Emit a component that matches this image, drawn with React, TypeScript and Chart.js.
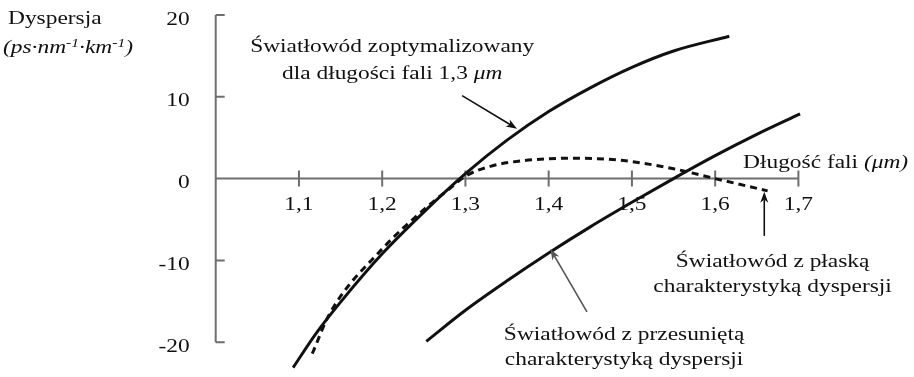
import React, { useEffect, useRef } from "react";
import { Chart, registerables } from "chart.js";

Chart.register(...registerables);

// Dispersion curves (wavelength in µm, dispersion in ps·nm⁻¹·km⁻¹)
const standardX = [1.093, 1.12, 1.15, 1.2, 1.25, 1.3, 1.35, 1.4, 1.45, 1.5, 1.55, 1.617];
const standardY = [-23.1, -19.0, -15.1, -9.2, -4.1, 0.6, 4.7, 8.2, 11.1, 13.6, 15.6, 17.4];

const flatX = [1.116, 1.137, 1.2, 1.25, 1.28, 1.3, 1.33, 1.37, 1.43, 1.49, 1.55, 1.6, 1.663];
const flatY = [-21.4, -16.5, -8.6, -3.8, -1.3, 0.3, 1.5, 2.2, 2.5, 2.2, 1.2, 0.0, -1.5];

const shiftedX = [1.253, 1.3, 1.35, 1.4, 1.45, 1.5, 1.55, 1.6, 1.65, 1.702];
const shiftedY = [-19.9, -16.1, -12.5, -9.1, -5.9, -2.9, 0.0, 2.8, 5.4, 7.9];

// Axis ticks
const xTickValues = [1.1, 1.2, 1.3, 1.4, 1.5, 1.6, 1.7];
const xTickLabels = ["1,1", "1,2", "1,3", "1,4", "1,5", "1,6", "1,7"];
const yTickValues = [20, 10, 0, -10, -20];
const yTickLabels = ["20", "10", "0", "-10", "-20"];

type Part = { t: string; italic?: boolean; sup?: boolean };

// Text blocks anchored in data coordinates
const axisTitleY: Part[] = [{ t: "Dyspersja" }];
const axisUnitsY: Part[] = [
  { t: "(ps·nm", italic: true },
  { t: "-1", italic: true, sup: true },
  { t: "·km", italic: true },
  { t: "-1", italic: true, sup: true },
  { t: ")", italic: true },
];
const axisTitleX: Part[] = [{ t: "Długość fali " }, { t: "(μm)", italic: true }];

const noteStandard: Part[][] = [
  [{ t: "Światłowód zoptymalizowany" }],
  [{ t: "dla długości fali 1,3 " }, { t: "μm", italic: true }],
];
const noteFlat: Part[][] = [[{ t: "Światłowód z płaską" }], [{ t: "charakterystyką dyspersji" }]];
const noteShifted: Part[][] = [[{ t: "Światłowód z przesuniętą" }], [{ t: "charakterystyką dyspersji" }]];

// Arrows: [tailX, tailY, tipX, tipY] in data units
const arrowStandard = [1.296, 10.15, 1.362, 6.1];
const arrowShifted = [1.446, -16.3, 1.402, -8.6];
const arrowFlat = [1.659, -7.0, 1.659, -1.6];

const FONT_FAMILY = '"Liberation Serif", "Times New Roman", serif';
const FONT_SIZE = 18;
const TEXT_STRETCH = 1.3;
const AXIS_COLOR = "#6e6e6e";
const INK = "#111111";

function fontFor(p: Part) {
  const size = p.sup ? Math.round(FONT_SIZE * 0.65) : FONT_SIZE;
  return `${p.italic ? "italic " : ""}${size}px ${FONT_FAMILY}`;
}

function drawRich(ctx: CanvasRenderingContext2D, parts: Part[], x: number, y: number, align: "left" | "center" | "right") {
  ctx.save();
  ctx.translate(x, y);
  ctx.scale(TEXT_STRETCH, 1);
  ctx.textAlign = "left";
  ctx.textBaseline = "alphabetic";
  const widths = parts.map((p) => {
    ctx.font = fontFor(p);
    return ctx.measureText(p.t).width;
  });
  const total = widths.reduce((a, b) => a + b, 0);
  let cx = align === "center" ? -total / 2 : align === "right" ? -total : 0;
  parts.forEach((p, i) => {
    ctx.font = fontFor(p);
    ctx.fillText(p.t, cx, p.sup ? -FONT_SIZE * 0.38 : 0);
    cx += widths[i];
  });
  ctx.restore();
}

function drawArrow(ctx: CanvasRenderingContext2D, x1: number, y1: number, x2: number, y2: number, color: string) {
  const ang = Math.atan2(y2 - y1, x2 - x1);
  const head = 11;
  const half = 4;
  ctx.save();
  ctx.strokeStyle = color;
  ctx.fillStyle = color;
  ctx.lineWidth = 1.6;
  ctx.beginPath();
  ctx.moveTo(x1, y1);
  ctx.lineTo(x2 - Math.cos(ang) * head * 0.7, y2 - Math.sin(ang) * head * 0.7);
  ctx.stroke();
  ctx.beginPath();
  ctx.moveTo(x2, y2);
  ctx.lineTo(x2 - Math.cos(ang) * head + Math.sin(ang) * half, y2 - Math.sin(ang) * head - Math.cos(ang) * half);
  ctx.lineTo(x2 - Math.cos(ang) * head * 0.72, y2 - Math.sin(ang) * head * 0.72);
  ctx.lineTo(x2 - Math.cos(ang) * head - Math.sin(ang) * half, y2 - Math.sin(ang) * head + Math.cos(ang) * half);
  ctx.closePath();
  ctx.fill();
  ctx.restore();
}

const axesPlugin = {
  id: "crossAxes",
  beforeDatasetsDraw(chart: any) {
    const { ctx, scales } = chart;
    const xs = scales.x;
    const ys = scales.y;
    const x0 = xs.getPixelForValue(1.0);
    const x1 = xs.getPixelForValue(1.7);
    const yZero = ys.getPixelForValue(0);
    const yTop = ys.getPixelForValue(20);
    const yBot = ys.getPixelForValue(-20);
    ctx.save();
    ctx.strokeStyle = AXIS_COLOR;
    ctx.lineWidth = 2;
    ctx.beginPath();
    ctx.moveTo(x0, yTop);
    ctx.lineTo(x0, yBot);
    ctx.moveTo(x0, yZero);
    ctx.lineTo(x1, yZero);
    yTickValues.forEach((v) => {
      const py = ys.getPixelForValue(v);
      ctx.moveTo(x0, py);
      ctx.lineTo(x0 + 9, py);
    });
    xTickValues.forEach((v) => {
      const px = xs.getPixelForValue(v);
      ctx.moveTo(px, yZero - 8);
      ctx.lineTo(px, yZero + 8);
    });
    ctx.stroke();

    ctx.fillStyle = INK;
    xTickValues.forEach((v, i) => {
      drawRich(ctx, [{ t: xTickLabels[i] }], xs.getPixelForValue(v), yZero + 31, "center");
    });
    yTickValues.forEach((v, i) => {
      drawRich(ctx, [{ t: yTickLabels[i] }], x0 - 26, ys.getPixelForValue(v) + 9.5, "right");
    });
    ctx.restore();
  },
  afterDatasetsDraw(chart: any) {
    const { ctx, scales } = chart;
    const xs = scales.x;
    const ys = scales.y;
    const P = (x: number, y: number) => [xs.getPixelForValue(x), ys.getPixelForValue(y)];
    ctx.save();
    ctx.fillStyle = INK;

    const block = (lines: Part[][], x: number, y: number, gap: number, align: "left" | "center") => {
      const [px, py] = P(x, y);
      lines.forEach((ln, i) => drawRich(ctx, ln, px, py + i * gap, align));
    };

    block([axisTitleY], 0.7505, 18.85, 0, "left");
    block([axisUnitsY], 0.7445, 15.3, 0, "left");
    block([axisTitleX], 1.6335, 1.3, 0, "left");
    block(noteStandard, 1.212, 15.48, 27, "center");
    block(noteFlat, 1.669, -10.8, 25, "center");
    block(noteShifted, 1.4906, -19.73, 25, "center");

    const arrow = (a: number[], color: string) => {
      const [ax, ay] = P(a[0], a[1]);
      const [bx, by] = P(a[2], a[3]);
      drawArrow(ctx, ax, ay, bx, by, color);
    };
    arrow(arrowStandard, INK);
    arrow(arrowShifted, "#555555");
    arrow(arrowFlat, INK);
    ctx.restore();
  },
};

const toPoints = (xs: number[], ys: number[]) => xs.map((x, i) => ({ x, y: ys[i] }));

export default function App() {
  const canvasRef = useRef<HTMLCanvasElement | null>(null);

  useEffect(() => {
    document.body.style.margin = "0";
    const canvas = canvasRef.current;
    if (!canvas) return;
    const chart = new Chart(canvas, {
      type: "line",
      data: {
        datasets: [
          {
            data: toPoints(standardX, standardY),
            borderColor: INK,
            borderWidth: 3,
            pointRadius: 0,
            cubicInterpolationMode: "monotone",
            clip: false as any,
          },
          {
            data: toPoints(flatX, flatY),
            borderColor: INK,
            borderWidth: 3,
            borderDash: [7, 5],
            pointRadius: 0,
            cubicInterpolationMode: "monotone",
            clip: false as any,
          },
          {
            data: toPoints(shiftedX, shiftedY),
            borderColor: INK,
            borderWidth: 3,
            pointRadius: 0,
            cubicInterpolationMode: "monotone",
            clip: false as any,
          },
        ],
      },
      options: {
        animation: false,
        responsive: false,
        devicePixelRatio: 1,
        layout: { padding: { left: 215.7, right: 115.6, top: 15, bottom: 34.8 } },
        scales: {
          x: { type: "linear", min: 1.0, max: 1.7, display: false },
          y: { type: "linear", min: -20, max: 20, display: false },
        },
        plugins: { legend: { display: false }, tooltip: { enabled: false } },
        events: [],
      },
      plugins: [axesPlugin],
    });
    return () => chart.destroy();
  }, []);

  return (
    <div style={{ width: 914, height: 377, background: "#ffffff" }}>
      <canvas ref={canvasRef} width={914} height={377} />
    </div>
  );
}
